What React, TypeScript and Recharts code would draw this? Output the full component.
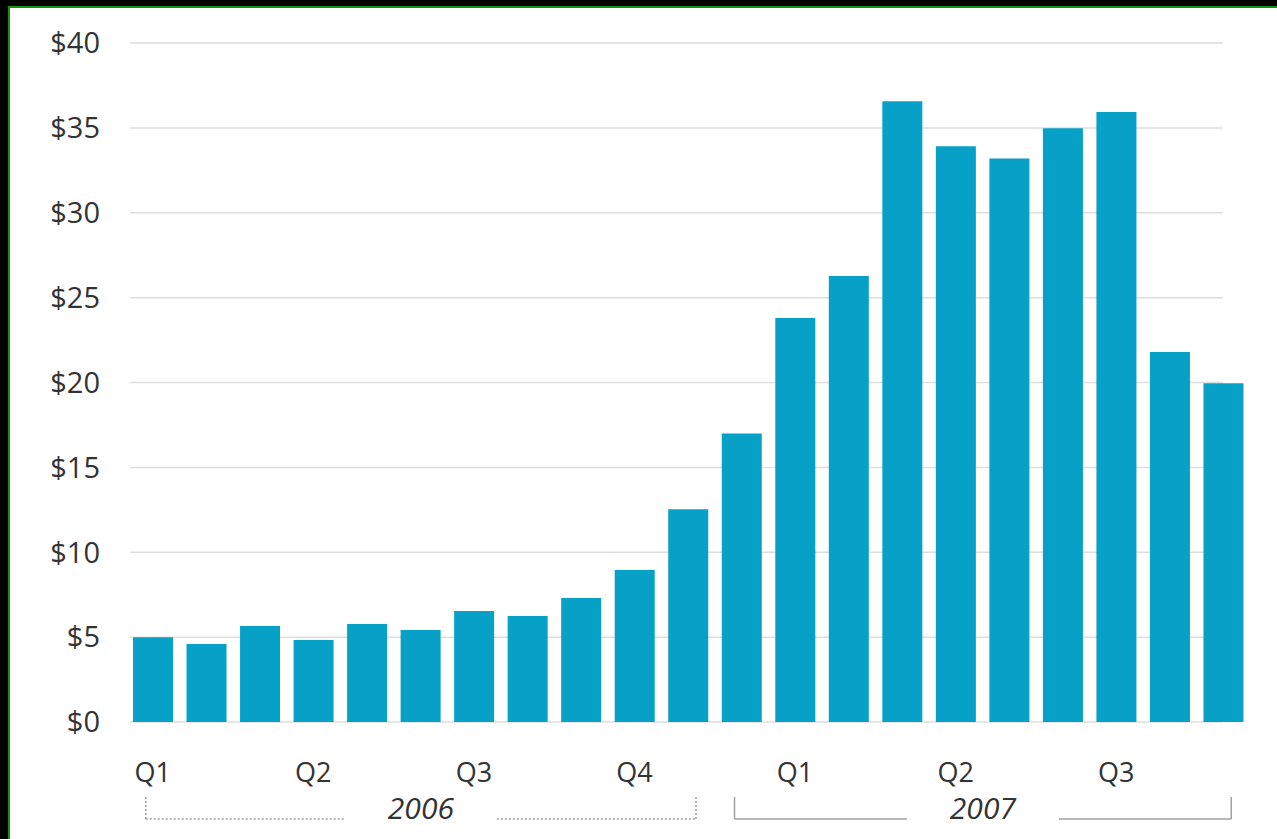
import { BarChart, Bar, XAxis, YAxis, CartesianGrid } from 'recharts'

const months = [
  'Jan 06', 'Feb 06', 'Mar 06', 'Apr 06', 'May 06', 'Jun 06', 'Jul 06', 'Aug 06', 'Sep 06', 'Oct 06', 'Nov 06', 'Dec 06',
  'Jan 07', 'Feb 07', 'Mar 07', 'Apr 07', 'May 07', 'Jun 07', 'Jul 07', 'Aug 07', 'Sep 07',
]
const prices = [
  5.0, 4.6, 5.65, 4.83, 5.77, 5.42, 6.54, 6.24, 7.3, 8.95, 12.54, 17.0,
  23.8, 26.27, 36.57, 33.92, 33.2, 34.98, 35.93, 21.8, 19.96,
]
const priceTicks = [0, 5, 10, 15, 20, 25, 30, 35, 40]

const quarterTicks = ['Jan 06', 'Apr 06', 'Jul 06', 'Oct 06', 'Jan 07', 'Apr 07', 'Jul 07']
const quarterLabels = ['Q1', 'Q2', 'Q3', 'Q4', 'Q1', 'Q2', 'Q3']

const yearLabels = ['2006', '2007']
const yearStart = ['Jan 06', 'Dec 06']
const yearEnd = ['Nov 06', 'Sep 07']
const yearDotted = [true, false]

const data = months.map((month, i) => ({ month, price: prices[i] }))

const WIDTH = 1277
const HEIGHT = 839
const MARGIN = { top: 43, right: 27, bottom: 0, left: 0 }
const Y_AXIS_W = 126
const PLOT_W = WIDTH - MARGIN.left - MARGIN.right - Y_AXIS_W
const STEP = PLOT_W / months.length

const FONT = '"Open Sans", sans-serif'
const TEXT = '#333333'
const BRACKET = '#a0a0a0'

// draws the year bracket under the quarter labels
const YearBracket = ({ x, y, payload }: any) => {
  const i = yearStart.indexOf(payload.value)
  if (i < 0) return null
  const span = months.indexOf(yearEnd[i]) - months.indexOf(yearStart[i])
  const left = x - 7
  const right = x + span * STEP + 8
  const mid = (left + right) / 2
  const gap = 76
  const lineY = y + 37
  const dash = yearDotted[i] ? '2 2' : undefined
  return (
    <g>
      <line x1={left} y1={y + 15} x2={left} y2={lineY} stroke={BRACKET} strokeWidth={1.5} strokeDasharray={dash} />
      <line x1={right} y1={y + 15} x2={right} y2={lineY} stroke={BRACKET} strokeWidth={1.5} strokeDasharray={dash} />
      <line x1={left} y1={lineY} x2={mid - gap} y2={lineY} stroke={BRACKET} strokeWidth={1.5} strokeDasharray={dash} />
      <line x1={mid + gap} y1={lineY} x2={right} y2={lineY} stroke={BRACKET} strokeWidth={1.5} strokeDasharray={dash} />
      <text
        x={mid}
        y={lineY}
        textAnchor="middle"
        fontFamily={FONT}
        fontSize={30}
        fontStyle="italic"
        fill={TEXT}
      >
        {yearLabels[i]}
      </text>
    </g>
  )
}

export default function App() {
  return (
    <div style={{ position: 'fixed', left: 0, top: 0, width: WIDTH, height: HEIGHT, background: '#000' }}>
      <div
        style={{
          position: 'absolute',
          left: 8,
          top: 6,
          right: 0,
          bottom: 0,
          background: '#fff',
          borderLeft: '2px solid #119211',
          borderTop: '2px solid #119211',
        }}
      />
      <div style={{ position: 'absolute', left: 0, top: 0 }}>
        <BarChart width={WIDTH} height={HEIGHT} data={data} margin={MARGIN}>
          <CartesianGrid vertical={false} stroke="#dedede" strokeWidth={1.5} x={130} width={1093} />
          <YAxis
            width={Y_AXIS_W}
            domain={[0, 40]}
            ticks={priceTicks}
            tickFormatter={(v: number) => `$${v}`}
            axisLine={false}
            tickLine={false}
            tickSize={0}
            tickMargin={26}
            tick={{ fill: TEXT, fontSize: 29, fontFamily: FONT }}
          />
          <XAxis
            dataKey="month"
            height={60}
            ticks={quarterTicks}
            interval={0}
            tickFormatter={(v: string) => quarterLabels[quarterTicks.indexOf(v)]}
            axisLine={false}
            tickLine={false}
            tickSize={0}
            tickMargin={41}
            tick={{ fill: TEXT, fontSize: 27, fontFamily: FONT }}
          />
          <XAxis
            xAxisId="year"
            dataKey="month"
            height={57}
            ticks={yearStart}
            interval={0}
            axisLine={false}
            tickLine={false}
            tickSize={0}
            tickMargin={0}
            tick={<YearBracket />}
          />
          <Bar dataKey="price" fill="#07a0c6" barSize={40} isAnimationActive={false} />
        </BarChart>
      </div>
    </div>
  )
}
